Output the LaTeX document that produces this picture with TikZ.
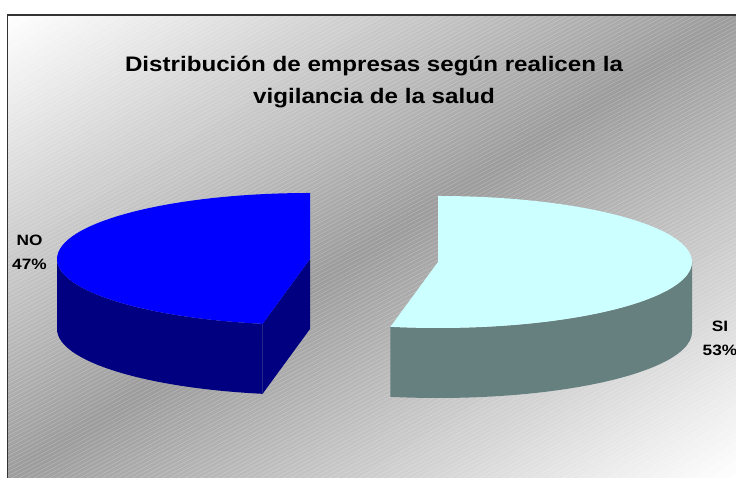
\documentclass[tikz,border=0pt]{standalone}
\usepackage{fontspec}
\newfontfamily\chartfont[FakeStretch=1.15]{Liberation Sans}
\definecolor{bggray}{RGB}{156,156,156}
\definecolor{notop}{RGB}{0,0,255}
\definecolor{noside}{RGB}{0,0,128}
\definecolor{sitop}{RGB}{204,255,255}
\definecolor{siside}{RGB}{102,128,128}
\begin{document}
\begin{tikzpicture}[x=1pt,y=1pt,
    face/.style={draw=black,line width=0.9pt,line join=round},
    hatch/.style={white,opacity=0.25,line width=0.5pt},
    titletext/.style={font=\chartfont\bfseries\fontsize{21}{32}\selectfont,align=center,anchor=base,inner sep=0pt},
    pielabel/.style={font=\chartfont\bfseries\fontsize{15}{24}\selectfont,align=center,anchor=base,inner sep=0pt}]
  \useasboundingbox (0,0) rectangle (736,478);
  \clip (0,0) rectangle (736,478);
  \begin{scope}
    \clip (7.5,463) rectangle (740,-20);
    \begin{scope}[shift={(7.5,463)},xscale=728.5,yscale=-463]
      \foreach \s in {0,0.02,...,1.98}{
        \pgfmathsetmacro\w{100*abs(\s+0.01-1)}
        \fill[white!\w!bggray] (\s,0) -- (\s+0.03,0) -- (0,\s+0.03) -- (0,\s) -- cycle;
      }
    \end{scope}
    \foreach \c in {-390,-386,...,478}
      \draw[hatch] (0,\c) -- ++(736,390);
  \end{scope}
  \draw[line width=1.6pt,black!80] (7.5,463) rectangle (740,-20);

  \node[titletext] (title) at (374,374) {Distribución de empresas según realicen la\\vigilancia de la salud};

  \coordinate (nc) at (310,219);
  \coordinate (sc) at (438,216);

  \begin{scope}[face]
    \path[fill=noside] (nc) ++(180:253 and 66) arc[start angle=180,end angle=259.2,x radius=253,y radius=66]
      -- ++(0,-70) arc[start angle=259.2,end angle=180,x radius=253,y radius=66] -- cycle;
    \path[fill=noside] (nc) -- ++(259.2:253 and 66) -- ++(0,-70) -- ++(79.2:253 and 66) -- cycle;
    \path[fill=notop] (nc) -- ++(90:253 and 66) arc[start angle=90,end angle=259.2,x radius=253,y radius=66] -- cycle;

    \path[fill=siside] (sc) ++(-100.8:254 and 66) arc[start angle=-100.8,end angle=0,x radius=254,y radius=66]
      -- ++(0,-70) arc[start angle=0,end angle=-100.8,x radius=254,y radius=66] -- cycle;
    \path[fill=sitop] (sc) -- ++(90:254 and 66) arc[start angle=90,end angle=-100.8,x radius=254,y radius=66] -- cycle;
  \end{scope}

  \node[pielabel] (nolabel) at (29.5,208) {NO\\47\%};
  \node[pielabel] (silabel) at (720,122) {SI\\53\%};
\end{tikzpicture}
\end{document}
